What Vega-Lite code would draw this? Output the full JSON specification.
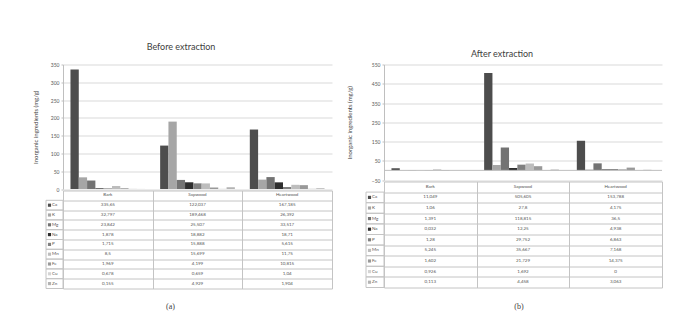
{
  "$schema": "https://vega.github.io/schema/vega-lite/v6.json",
  "background": "white",
  "padding": {"left": 32, "top": 42.5, "right": 0, "bottom": 0},
  "spacing": 14,
  "config": {
    "font": "Lato",
    "view": {"stroke": null},
    "locale": {"number": {"decimal": ",", "thousands": ".", "grouping": [3], "currency": ["", " €"]}},
    "axis": {"labelFont": "Lato", "titleFont": "Lato"}
  },
  "datasets": {
    "before": [
      {"group": "Bark", "element": "Ca", "value": 335.65},
      {"group": "Bark", "element": "K", "value": 32.797},
      {"group": "Bark", "element": "Mg", "value": 23.842},
      {"group": "Bark", "element": "Na", "value": 1.878},
      {"group": "Bark", "element": "P", "value": 1.715},
      {"group": "Bark", "element": "Mn", "value": 8.5},
      {"group": "Bark", "element": "Fe", "value": 1.969},
      {"group": "Bark", "element": "Cu", "value": 0.678},
      {"group": "Bark", "element": "Zn", "value": 0.155},
      {"group": "Sapwood", "element": "Ca", "value": 122.037},
      {"group": "Sapwood", "element": "K", "value": 189.468},
      {"group": "Sapwood", "element": "Mg", "value": 25.507},
      {"group": "Sapwood", "element": "Na", "value": 18.882},
      {"group": "Sapwood", "element": "P", "value": 15.888},
      {"group": "Sapwood", "element": "Mn", "value": 15.699},
      {"group": "Sapwood", "element": "Fe", "value": 4.199},
      {"group": "Sapwood", "element": "Cu", "value": 0.659},
      {"group": "Sapwood", "element": "Zn", "value": 4.929},
      {"group": "Heartwood", "element": "Ca", "value": 167.185},
      {"group": "Heartwood", "element": "K", "value": 26.392},
      {"group": "Heartwood", "element": "Mg", "value": 33.517},
      {"group": "Heartwood", "element": "Na", "value": 18.71},
      {"group": "Heartwood", "element": "P", "value": 5.615},
      {"group": "Heartwood", "element": "Mn", "value": 11.75},
      {"group": "Heartwood", "element": "Fe", "value": 10.815},
      {"group": "Heartwood", "element": "Cu", "value": 1.04},
      {"group": "Heartwood", "element": "Zn", "value": 1.904}
    ],
    "after": [
      {"group": "Bark", "element": "Ca", "value": 11.049},
      {"group": "Bark", "element": "K", "value": 1.06},
      {"group": "Bark", "element": "Mg", "value": 1.391},
      {"group": "Bark", "element": "Na", "value": 0.032},
      {"group": "Bark", "element": "P", "value": 1.28},
      {"group": "Bark", "element": "Mn", "value": 5.245},
      {"group": "Bark", "element": "Fe", "value": 1.602},
      {"group": "Bark", "element": "Cu", "value": 0.926},
      {"group": "Bark", "element": "Zn", "value": 0.113},
      {"group": "Sapwood", "element": "Ca", "value": 505.605},
      {"group": "Sapwood", "element": "K", "value": 27.8},
      {"group": "Sapwood", "element": "Mg", "value": 118.815},
      {"group": "Sapwood", "element": "Na", "value": 12.25},
      {"group": "Sapwood", "element": "P", "value": 29.752},
      {"group": "Sapwood", "element": "Mn", "value": 35.667},
      {"group": "Sapwood", "element": "Fe", "value": 21.729},
      {"group": "Sapwood", "element": "Cu", "value": 1.692},
      {"group": "Sapwood", "element": "Zn", "value": 4.458},
      {"group": "Heartwood", "element": "Ca", "value": 153.788},
      {"group": "Heartwood", "element": "K", "value": 4.175},
      {"group": "Heartwood", "element": "Mg", "value": 36.5},
      {"group": "Heartwood", "element": "Na", "value": 4.938},
      {"group": "Heartwood", "element": "P", "value": 6.863},
      {"group": "Heartwood", "element": "Mn", "value": 7.168},
      {"group": "Heartwood", "element": "Fe", "value": 14.375},
      {"group": "Heartwood", "element": "Cu", "value": 0},
      {"group": "Heartwood", "element": "Zn", "value": 3.063}
    ]
  },
  "hconcat": [
    {
      "vconcat": [
        {
          "width": 269,
          "height": 124.5,
          "title": {"text": "Before extraction", "offset": 10.5, "dx": -16.5, "fontSize": 9, "fontWeight": "normal", "color": "#404040", "font": "Lato"},
          "data": {"name": "before"},
          "mark": {"type": "bar"},
          "encoding": {
            "x": {"field": "group", "type": "nominal", "sort": ["Bark", "Sapwood", "Heartwood"], "scale": {"paddingInner": 0, "paddingOuter": 0}, "axis": null},
            "xOffset": {"field": "element", "type": "nominal", "sort": ["Ca", "K", "Mg", "Na", "P", "Mn", "Fe", "Cu", "Zn"], "scale": {"paddingInner": 0, "paddingOuter": 0.9}},
            "y": {"field": "value", "type": "quantitative", "scale": {"domain": [0, 350], "nice": false},
              "axis": {"values": [0, 50, 100, 150, 200, 250, 300, 350], "title": "Inorganic ingredients (mg/g)", "titleFontSize": 6, "titleFontWeight": "normal", "titleColor": "#404040", "titlePadding": 12, "labelFontSize": 5, "labelColor": "#595959", "labelPadding": 2, "tickSize": 2, "tickColor": "#bfbfbf", "domainColor": "#bfbfbf", "gridColor": "#d9d9d9"}},
            "color": {"field": "element", "type": "nominal", "scale": {"domain": ["Ca", "K", "Mg", "Na", "P", "Mn", "Fe", "Cu", "Zn"], "range": ["#4d4d4d", "#a6a6a6", "#737373", "#2e2e2e", "#808080", "#bdbdbd", "#999999", "#d4d4d4", "#b3b3b3"]}, "legend": null}
          }
        },
        {
          "width": 269,
          "height": 98,
          "title": {"text": "(a)", "orient": "bottom", "offset": 13.5, "fontSize": 8, "fontWeight": "normal", "color": "#404040", "font": "Liberation Serif", "dx": -27},
          "data": {"name": "before"},
          "layer": [
            {
              "mark": {"type": "text", "fontSize": 4.5, "color": "#555555"},
              "encoding": {
                "x": {"field": "group", "type": "nominal", "sort": ["Bark", "Sapwood", "Heartwood"], "scale": {"domain": ["Bark", "Sapwood", "Heartwood"], "paddingInner": 0, "paddingOuter": 0},
                  "axis": {"labels": false, "ticks": false, "domain": false, "grid": true, "tickBand": "extent", "gridColor": "#c4c4c4", "title": null}},
                "y": {"field": "element", "type": "nominal", "scale": {"domain": ["hdr", "Ca", "K", "Mg", "Na", "P", "Mn", "Fe", "Cu", "Zn"], "paddingInner": 0, "paddingOuter": 0},
                  "axis": {"labels": false, "ticks": false, "domain": false, "grid": true, "tickBand": "extent", "gridColor": "#c4c4c4", "title": null}},
                "text": {"field": "value", "type": "quantitative", "format": "~r"}
              }
            },
            {
              "data": {"values": [{"group": "Bark"}, {"group": "Sapwood"}, {"group": "Heartwood"}]},
              "mark": {"type": "text", "fontSize": 4.5, "color": "#555555"},
              "encoding": {
                "x": {"field": "group", "type": "nominal"},
                "y": {"datum": "hdr", "type": "nominal"},
                "text": {"field": "group", "type": "nominal"}
              }
            },
            {
              "transform": [{"filter": "datum.group === 'Bark'"}],
              "mark": {"type": "rect", "filled": false, "color": "#c4c4c4", "strokeWidth": 1, "xOffset": -17},
              "encoding": {
                "x": {"datum": "Bark", "type": "nominal", "bandPosition": 0},
                "x2": {"datum": "Bark", "bandPosition": 0},
                "y": {"field": "element", "type": "nominal"}
              }
            },
            {
              "transform": [{"filter": "datum.group === 'Bark'"}],
              "mark": {"type": "point", "shape": "square", "filled": true, "opacity": 1, "size": 10, "xOffset": -13.5},
              "encoding": {
                "x": {"datum": "Bark", "type": "nominal", "bandPosition": 0},
                "y": {"field": "element", "type": "nominal"},
                "color": {"field": "element", "type": "nominal", "scale": {"domain": ["Ca", "K", "Mg", "Na", "P", "Mn", "Fe", "Cu", "Zn"], "range": ["#4d4d4d", "#a6a6a6", "#737373", "#2e2e2e", "#808080", "#bdbdbd", "#999999", "#d4d4d4", "#b3b3b3"]}, "legend": null}
              }
            },
            {
              "transform": [{"filter": "datum.group === 'Bark'"}],
              "mark": {"type": "text", "align": "left", "fontSize": 4.5, "color": "#555555", "xOffset": -11},
              "encoding": {
                "x": {"datum": "Bark", "type": "nominal", "bandPosition": 0},
                "y": {"field": "element", "type": "nominal"},
                "text": {"field": "element", "type": "nominal"}
              }
            }
          ]
        }
      ],
      "spacing": 1,
      "bounds": "flush"
    },
    {
      "vconcat": [
        {
          "width": 278,
          "height": 115.5,
          "title": {"text": "After extraction", "offset": 3.5, "dx": -21, "fontSize": 9, "fontWeight": "normal", "color": "#404040", "font": "Lato"},
          "data": {"name": "after"},
          "layer": [
            {
              "mark": {"type": "bar"},
              "encoding": {
                "x": {"field": "group", "type": "nominal", "sort": ["Bark", "Sapwood", "Heartwood"], "scale": {"paddingInner": 0, "paddingOuter": 0}, "axis": null},
                "xOffset": {"field": "element", "type": "nominal", "sort": ["Ca", "K", "Mg", "Na", "P", "Mn", "Fe", "Cu", "Zn"], "scale": {"paddingInner": 0, "paddingOuter": 0.9}},
                "y": {"field": "value", "type": "quantitative", "scale": {"domain": [-50, 550], "nice": false},
                  "axis": {"values": [-50, 50, 150, 250, 350, 450, 550], "title": "Inorganic ingredients (mg/g)", "titleFontSize": 6, "titleFontWeight": "normal", "titleColor": "#404040", "titlePadding": 19, "labelFontSize": 5, "labelColor": "#595959", "labelPadding": 2, "tickSize": 2, "tickColor": "#bfbfbf", "domainColor": "#bfbfbf", "gridColor": "#d9d9d9"}},
                "color": {"field": "element", "type": "nominal", "scale": {"domain": ["Ca", "K", "Mg", "Na", "P", "Mn", "Fe", "Cu", "Zn"], "range": ["#4d4d4d", "#a6a6a6", "#737373", "#2e2e2e", "#808080", "#bdbdbd", "#999999", "#d4d4d4", "#b3b3b3"]}, "legend": null}
              }
            },
            {
              "data": {"values": [{}]},
              "mark": {"type": "rule", "color": "#bfbfbf"},
              "encoding": {"y": {"datum": 0, "type": "quantitative",
                "axis": {"values": [-50, 50, 150, 250, 350, 450, 550], "title": "Inorganic ingredients (mg/g)", "titleFontSize": 6, "titleFontWeight": "normal", "titleColor": "#404040", "titlePadding": 19, "labelFontSize": 5, "labelColor": "#595959", "labelPadding": 2, "tickSize": 2, "tickColor": "#bfbfbf", "domainColor": "#bfbfbf", "gridColor": "#d9d9d9"}}}
            }
          ]
        },
        {
          "width": 278,
          "height": 106,
          "title": {"text": "(b)", "orient": "bottom", "offset": 14.5, "fontSize": 8, "fontWeight": "normal", "color": "#404040", "font": "Liberation Serif", "dx": -4},
          "data": {"name": "after"},
          "layer": [
            {
              "mark": {"type": "text", "fontSize": 4.5, "color": "#555555"},
              "encoding": {
                "x": {"field": "group", "type": "nominal", "sort": ["Bark", "Sapwood", "Heartwood"], "scale": {"domain": ["Bark", "Sapwood", "Heartwood"], "paddingInner": 0, "paddingOuter": 0},
                  "axis": {"labels": false, "ticks": false, "domain": false, "grid": true, "tickBand": "extent", "gridColor": "#c4c4c4", "title": null}},
                "y": {"field": "element", "type": "nominal", "scale": {"domain": ["hdr", "Ca", "K", "Mg", "Na", "P", "Mn", "Fe", "Cu", "Zn"], "paddingInner": 0, "paddingOuter": 0},
                  "axis": {"labels": false, "ticks": false, "domain": false, "grid": true, "tickBand": "extent", "gridColor": "#c4c4c4", "title": null}},
                "text": {"field": "value", "type": "quantitative", "format": "~r"}
              }
            },
            {
              "data": {"values": [{"group": "Bark"}, {"group": "Sapwood"}, {"group": "Heartwood"}]},
              "mark": {"type": "text", "fontSize": 4.5, "color": "#555555"},
              "encoding": {
                "x": {"field": "group", "type": "nominal"},
                "y": {"datum": "hdr", "type": "nominal"},
                "text": {"field": "group", "type": "nominal"}
              }
            },
            {
              "transform": [{"filter": "datum.group === 'Bark'"}],
              "mark": {"type": "rect", "filled": false, "color": "#c4c4c4", "strokeWidth": 1, "xOffset": -18},
              "encoding": {
                "x": {"datum": "Bark", "type": "nominal", "bandPosition": 0},
                "x2": {"datum": "Bark", "bandPosition": 0},
                "y": {"field": "element", "type": "nominal"}
              }
            },
            {
              "transform": [{"filter": "datum.group === 'Bark'"}],
              "mark": {"type": "point", "shape": "square", "filled": true, "opacity": 1, "size": 10, "xOffset": -14.5},
              "encoding": {
                "x": {"datum": "Bark", "type": "nominal", "bandPosition": 0},
                "y": {"field": "element", "type": "nominal"},
                "color": {"field": "element", "type": "nominal", "scale": {"domain": ["Ca", "K", "Mg", "Na", "P", "Mn", "Fe", "Cu", "Zn"], "range": ["#4d4d4d", "#a6a6a6", "#737373", "#2e2e2e", "#808080", "#bdbdbd", "#999999", "#d4d4d4", "#b3b3b3"]}, "legend": null}
              }
            },
            {
              "transform": [{"filter": "datum.group === 'Bark'"}],
              "mark": {"type": "text", "align": "left", "fontSize": 4.5, "color": "#555555", "xOffset": -12},
              "encoding": {
                "x": {"datum": "Bark", "type": "nominal", "bandPosition": 0},
                "y": {"field": "element", "type": "nominal"},
                "text": {"field": "element", "type": "nominal"}
              }
            }
          ]
        }
      ],
      "spacing": 1,
      "bounds": "flush"
    }
  ]
}
